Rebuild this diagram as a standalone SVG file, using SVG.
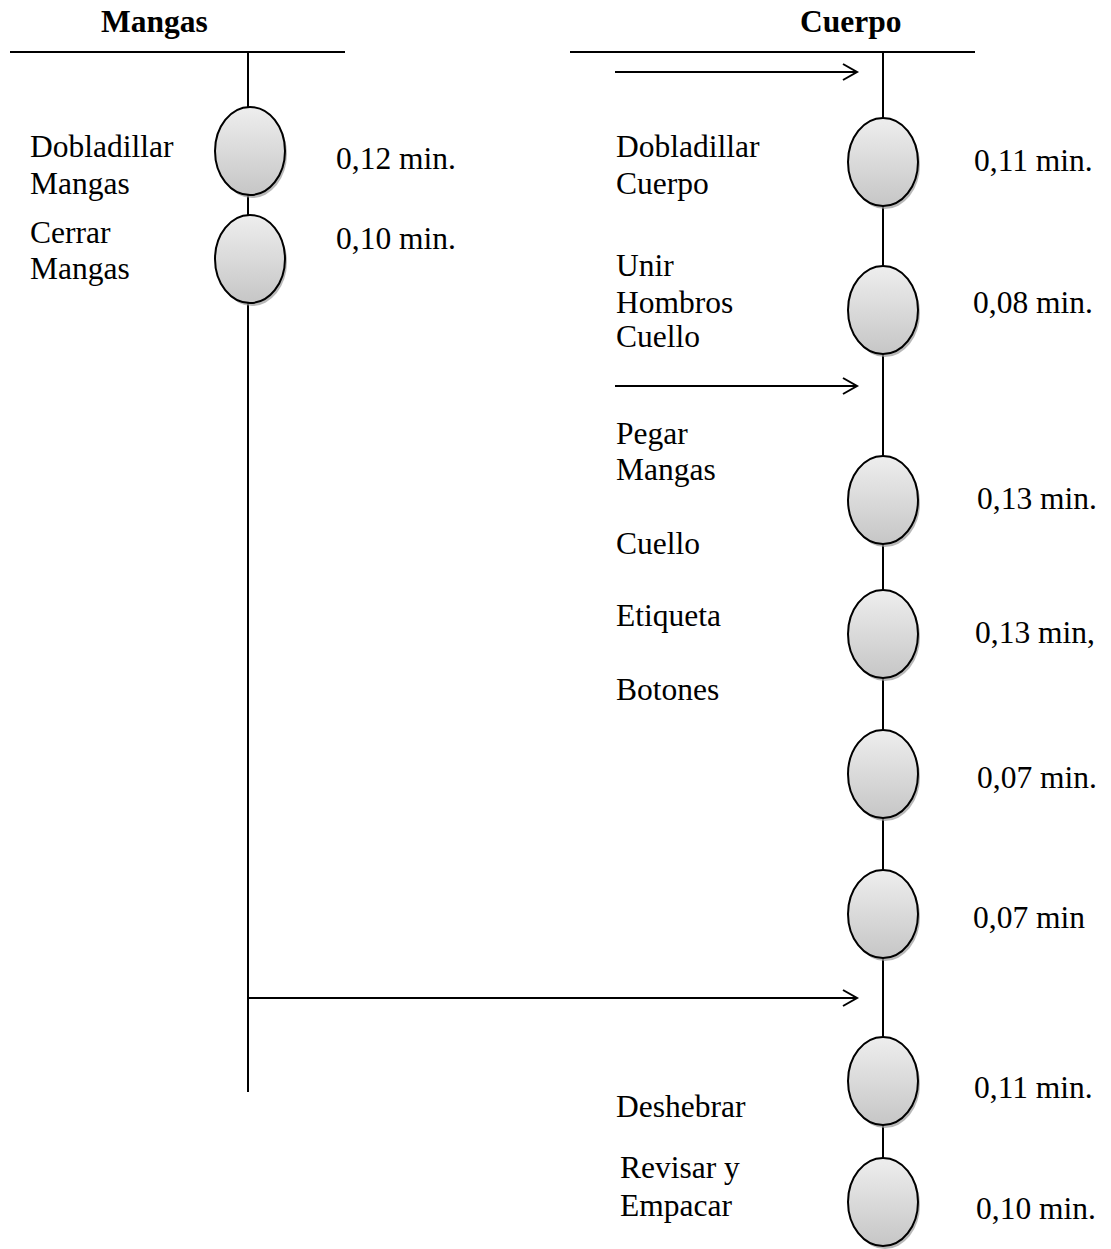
<svg xmlns="http://www.w3.org/2000/svg" width="1111" height="1249" viewBox="0 0 1111 1249">
<defs>
<linearGradient id="g" x1="0" y1="0" x2="0" y2="1">
<stop offset="0" stop-color="#eeeeee"/>
<stop offset="1" stop-color="#c6c6c6"/>
</linearGradient>
<marker id="ah" markerWidth="20" markerHeight="20" refX="16" refY="10" markerUnits="userSpaceOnUse" orient="auto">
<path d="M2,2 L16,10 L2,18" fill="none" stroke="#000" stroke-width="2"/>
</marker>
</defs>
<style>
text{font-family:"Liberation Serif","Times New Roman",serif;font-size:31.5px;fill:#000}
.b{font-weight:bold}
.ln{stroke:#000;stroke-width:2;fill:none}
.sh{fill:#9a9a9a;opacity:0.7}
.el{fill:url(#g);stroke:#000;stroke-width:2}
</style>
<rect width="1111" height="1249" fill="#fff"/>
<g id="connectors">
<line class="ln" x1="10" y1="52" x2="345" y2="52"/>
<line class="ln" x1="570" y1="52" x2="975" y2="52"/>
<line class="ln" x1="248" y1="52" x2="248" y2="1092"/>
<line class="ln" x1="883" y1="52" x2="883" y2="1200"/>
<line class="ln" x1="615" y1="72" x2="857" y2="72" marker-end="url(#ah)"/>
<line class="ln" x1="615" y1="386" x2="857" y2="386" marker-end="url(#ah)"/>
<line class="ln" x1="248" y1="998" x2="857" y2="998" marker-end="url(#ah)"/>
</g>
<g id="titles">
<text class="b" x="101" y="32">Mangas</text>
<text class="b" x="800" y="32">Cuerpo</text>
</g>
<g id="n1"><ellipse class="sh" cx="252" cy="154" rx="35" ry="44"/><ellipse class="el" cx="250" cy="151" rx="35" ry="44"/></g>
<g id="n2"><ellipse class="sh" cx="252" cy="262" rx="35" ry="44"/><ellipse class="el" cx="250" cy="259" rx="35" ry="44"/></g>
<g id="n3"><ellipse class="sh" cx="885" cy="165" rx="35" ry="44"/><ellipse class="el" cx="883" cy="162" rx="35" ry="44"/></g>
<g id="n4"><ellipse class="sh" cx="885" cy="313" rx="35" ry="44"/><ellipse class="el" cx="883" cy="310" rx="35" ry="44"/></g>
<g id="n5"><ellipse class="sh" cx="885" cy="503" rx="35" ry="44"/><ellipse class="el" cx="883" cy="500" rx="35" ry="44"/></g>
<g id="n6"><ellipse class="sh" cx="885" cy="637" rx="35" ry="44"/><ellipse class="el" cx="883" cy="634" rx="35" ry="44"/></g>
<g id="n7"><ellipse class="sh" cx="885" cy="777" rx="35" ry="44"/><ellipse class="el" cx="883" cy="774" rx="35" ry="44"/></g>
<g id="n8"><ellipse class="sh" cx="885" cy="917" rx="35" ry="44"/><ellipse class="el" cx="883" cy="914" rx="35" ry="44"/></g>
<g id="n9"><ellipse class="sh" cx="885" cy="1084" rx="35" ry="44"/><ellipse class="el" cx="883" cy="1081" rx="35" ry="44"/></g>
<g id="n10"><ellipse class="sh" cx="885" cy="1205" rx="35" ry="44"/><ellipse class="el" cx="883" cy="1202" rx="35" ry="44"/></g>
<g id="labels">
<text x="30" y="157">Dobladillar</text>
<text x="30" y="194">Mangas</text>
<text x="30" y="243">Cerrar</text>
<text x="30" y="279">Mangas</text>
<text x="336" y="169">0,12 min.</text>
<text x="336" y="249">0,10 min.</text>
<text x="616" y="157">Dobladillar</text>
<text x="616" y="194">Cuerpo</text>
<text x="616" y="276">Unir</text>
<text x="616" y="313">Hombros</text>
<text x="616" y="347">Cuello</text>
<text x="616" y="444">Pegar</text>
<text x="616" y="480">Mangas</text>
<text x="616" y="554">Cuello</text>
<text x="616" y="626">Etiqueta</text>
<text x="616" y="700">Botones</text>
<text x="616" y="1117">Deshebrar</text>
<text x="620" y="1178">Revisar y</text>
<text x="620" y="1216">Empacar</text>
<text x="974" y="171">0,11 min.</text>
<text x="973" y="313">0,08 min.</text>
<text x="977" y="509">0,13 min.</text>
<text x="975" y="643">0,13 min,</text>
<text x="977" y="788">0,07 min.</text>
<text x="973" y="928">0,07 min</text>
<text x="974" y="1098">0,11 min.</text>
<text x="976" y="1219">0,10 min.</text>
</g>
</svg>
